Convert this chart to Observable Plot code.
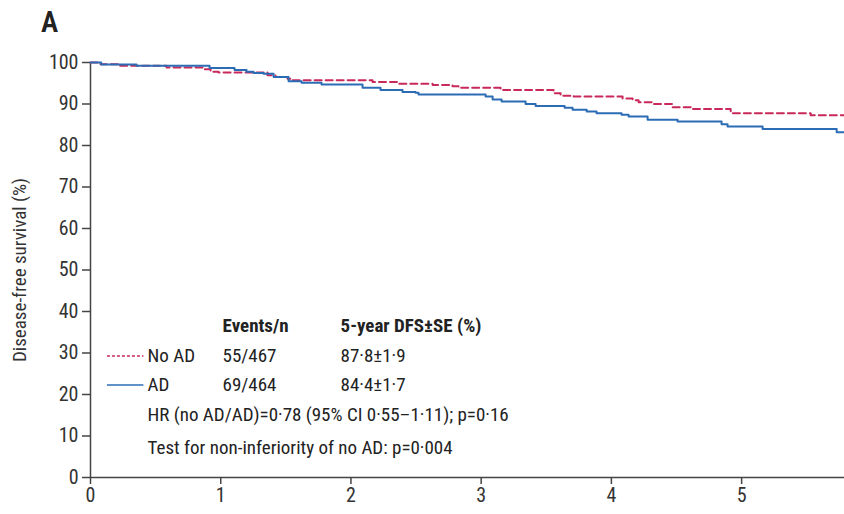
<!DOCTYPE html>
<html>
<head>
<meta charset="utf-8">
<script src="https://cdn.jsdelivr.net/npm/d3@7"></script>
<script src="https://cdn.jsdelivr.net/npm/@observablehq/plot@0.6"></script>
<style>
  html, body { margin: 0; padding: 0; background: #fff; }
  #wrap { position: relative; width: 844px; height: 514px; font-family: "Liberation Sans Narrow", "Roboto Condensed", "Noto Sans", sans-serif; }
  #panel { position: absolute; left: 41px; top: 5px; font-size: 29px; color: #222; font-weight: 600; }
</style>
</head>
<body>
<div id="wrap"><div id="panel">A</div></div>
<script>
// Kaplan–Meier step data (years, % disease-free)
const adTimes = [0, 0.082, 0.353, 0.914, 1.106, 1.198, 1.252, 1.329, 1.406, 1.521, 1.621, 1.774, 2.089, 2.227, 2.396, 2.496, 2.519, 3.034, 3.088, 3.157, 3.341, 3.418, 3.641, 3.702, 3.810, 3.886, 4.078, 4.132, 4.278, 4.508, 4.846, 4.892, 5.161, 5.730, 5.79];
const adSurv  = [100, 99.5, 99.2, 98.7, 98.2, 97.8, 97.5, 97.3, 96.5, 95.5, 95.1, 94.7, 93.9, 93.4, 92.9, 92.7, 92.3, 91.8, 91.1, 90.6, 90.0, 89.5, 89.1, 88.6, 88.2, 87.8, 87.4, 87.0, 86.2, 85.8, 85.1, 84.6, 84.0, 83.2, 83.2];
const noAdTimes = [0, 0.077, 0.215, 0.584, 0.868, 0.922, 0.983, 1.359, 1.421, 1.513, 1.551, 2.166, 2.358, 2.627, 2.780, 2.826, 3.149, 3.556, 3.610, 3.710, 4.086, 4.163, 4.209, 4.316, 4.470, 4.624, 4.916, 5.530, 5.79];
const noAdSurv  = [100, 99.6, 99.2, 98.8, 98.4, 97.8, 97.6, 96.9, 96.5, 96.1, 95.7, 95.3, 94.9, 94.6, 94.3, 93.9, 93.4, 92.6, 92.0, 91.8, 91.3, 90.9, 90.4, 90.0, 89.2, 88.8, 87.8, 87.3, 87.3];

const groups = ["No AD", "AD"];
const eventsN = ["55/467", "69/464"];
const dfs5 = ["87·8±1·9", "84·4±1·7"];
const colHeads = ["Events/n", "5-year DFS±SE (%)"];
const hrText = "HR (no AD/AD)=0·78 (95% CI 0·55–1·11); p=0·16";
const niText = "Test for non-inferiority of no AD: p=0·004";
const xTicks = [0, 1, 2, 3, 4, 5];
const yTicks = [0, 10, 20, 30, 40, 50, 60, 70, 80, 90, 100];
const yLabel = "Disease-free survival (%)";

const RED = "#c8285a", BLUE = "#2b6cb4";
const FONT = "'Liberation Sans Narrow', 'Roboto Condensed', 'Noto Sans', sans-serif";

const ad = adTimes.map((t, i) => ({t, s: adSurv[i]}));
const noad = noAdTimes.map((t, i) => ({t, s: noAdSurv[i]}));

const legendRows = groups.map((g, i) => ({g, ev: eventsN[i], dfs: dfs5[i], y: i === 0 ? 29.3 : 22.3}));

const chart = Plot.plot({
  width: 844,
  height: 514,
  marginLeft: 90,
  marginRight: 0,
  marginTop: 62,
  marginBottom: 37,
  style: {fontFamily: FONT, fontSize: "19px", color: "#333", background: "transparent"},
  x: {domain: [0, 5.79]},
  y: {domain: [0, 100]},
  marks: [
    Plot.axisY({ticks: yTicks, tickFormat: d3.format("d"), tickSize: 8, tickPadding: 4, fontSize: 20, stroke: "#444", strokeWidth: 1.5, fill: "#333", label: null}),
    Plot.axisX({ticks: xTicks, tickFormat: d3.format("d"), tickSize: 7, tickPadding: 3, fontSize: 20, stroke: "#444", strokeWidth: 1.5, fill: "#333", label: null}),
    Plot.text([yLabel], {frameAnchor: "left", dx: -71, rotate: -90, textAnchor: "middle", text: d => d, fontSize: 19, fill: "#333"}),
    Plot.ruleX([0], {stroke: "#444", strokeWidth: 1.5}),
    Plot.ruleY([0], {stroke: "#444", strokeWidth: 1.5}),
    Plot.line(noad, {x: "t", y: "s", curve: "step-after", stroke: RED, strokeWidth: 2, strokeDasharray: "7,4"}),
    Plot.line(ad, {x: "t", y: "s", curve: "step-after", stroke: BLUE, strokeWidth: 2}),
    // legend table
    Plot.text(colHeads, {x: [1.014, 1.92], y: 36.6, text: d => d, textAnchor: "start", fontWeight: "bold", fill: "#222", fontSize: 19}),
    Plot.ruleY([legendRows[0]], {y: "y", x1: 0.13, x2: 0.41, stroke: RED, strokeWidth: 1.5, strokeDasharray: "3,2"}),
    Plot.ruleY([legendRows[1]], {y: "y", x1: 0.13, x2: 0.41, stroke: BLUE, strokeWidth: 1.5}),
    Plot.text(legendRows, {x: 0.438, y: "y", text: "g", textAnchor: "start", fill: "#222", fontSize: 19}),
    Plot.text(legendRows, {x: 1.014, y: "y", text: "ev", textAnchor: "start", fill: "#222", fontSize: 19}),
    Plot.text(legendRows, {x: 1.92, y: "y", text: "dfs", textAnchor: "start", fill: "#222", fontSize: 19}),
    Plot.text([hrText], {x: 0.438, y: 15.0, text: d => d, textAnchor: "start", fill: "#222", fontSize: 19}),
    Plot.text([niText], {x: 0.438, y: 7.2, text: d => d, textAnchor: "start", fill: "#222", fontSize: 19})
  ]
});
document.getElementById("wrap").appendChild(chart);
</script>
</body>
</html>
